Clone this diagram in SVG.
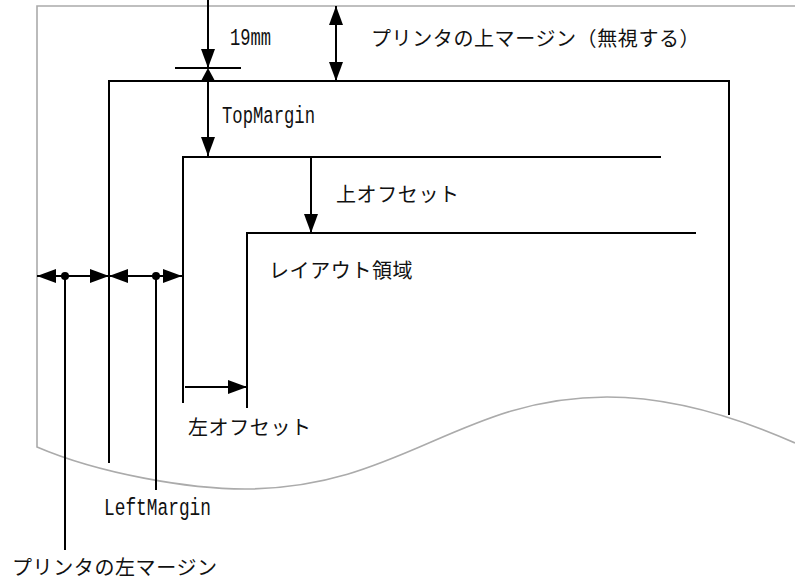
<svg xmlns="http://www.w3.org/2000/svg" width="795" height="580" viewBox="0 0 795 580">
  <style>
    .paper { fill: none; stroke: #ababab; stroke-width: 1.6; }
    .edge { fill: none; stroke: #000; stroke-width: 2; }
    .dim { fill: none; stroke: #000; stroke-width: 2; }
    .jp { font-family: "Noto Sans CJK JP", "Noto Sans", sans-serif; font-size: 20px; letter-spacing: 0.6px; fill: #111; }
    .en { font-family: "Liberation Mono", "DejaVu Sans Mono", monospace; font-size: 24.5px; fill: #111; }
  </style>
  <defs>
    <marker id="ah" viewBox="0 0 19 14" refX="19" refY="7" markerWidth="19" markerHeight="14" markerUnits="userSpaceOnUse" orient="auto-start-reverse">
      <path d="M0,0 L19,7 L0,14 z" fill="#000"/>
    </marker>
  </defs>
  <rect width="795" height="580" fill="#fff"/>

  <g id="paper">
    <path class="paper" d="M795,6 L37,6 L37,447 C100,474 190,489 245,489 C400,489 460,397 607,397 C680,397 750,423 795,443"/>
  </g>

  <g id="printable-area">
    <path class="edge" d="M109,463 L109,81 L729,81 L729,415"/>
  </g>

  <g id="margin-area">
    <path class="edge" d="M183,403 L183,157 L661,157"/>
  </g>

  <g id="layout-area">
    <path class="edge" d="M247,408 L247,233 L696,233"/>
  </g>

  <g id="connectors">
    <line class="dim" x1="208" y1="0" x2="208" y2="68" marker-end="url(#ah)"/>
    <line class="dim" x1="175" y1="68" x2="241" y2="68"/>
    <polygon points="201,81 215,81 208,68" fill="#000"/>
    <line class="dim" x1="336" y1="6" x2="336" y2="81" marker-start="url(#ah)" marker-end="url(#ah)"/>
    <line class="dim" x1="208" y1="81" x2="208" y2="156" marker-end="url(#ah)"/>
    <line class="dim" x1="311" y1="157" x2="311" y2="233" marker-end="url(#ah)"/>
    <line class="dim" x1="37" y1="276" x2="109" y2="276" marker-start="url(#ah)" marker-end="url(#ah)"/>
    <circle cx="65" cy="276" r="4" fill="#000"/>
    <line class="dim" x1="65" y1="276" x2="65" y2="550"/>
    <line class="dim" x1="109" y1="276" x2="182" y2="276" marker-start="url(#ah)" marker-end="url(#ah)"/>
    <circle cx="156" cy="276" r="4" fill="#000"/>
    <line class="dim" x1="156" y1="276" x2="156" y2="490"/>
    <line class="dim" x1="185" y1="387" x2="247" y2="387" marker-end="url(#ah)"/>
  </g>

  <g id="labels">
    <text class="en" x="230" y="45" textLength="41" lengthAdjust="spacingAndGlyphs">19mm</text>
    <text class="jp" x="371" y="46">プリンタの上マージン（無視する）</text>
    <text class="en" x="222" y="123" textLength="93" lengthAdjust="spacingAndGlyphs">TopMargin</text>
    <text class="jp" x="336" y="202">上オフセット</text>
    <text class="jp" x="269" y="278">レイアウト領域</text>
    <text class="jp" x="188" y="435">左オフセット</text>
    <text class="en" x="104" y="515" textLength="107" lengthAdjust="spacingAndGlyphs">LeftMargin</text>
    <text class="jp" x="12" y="575">プリンタの左マージン</text>
  </g>
</svg>
